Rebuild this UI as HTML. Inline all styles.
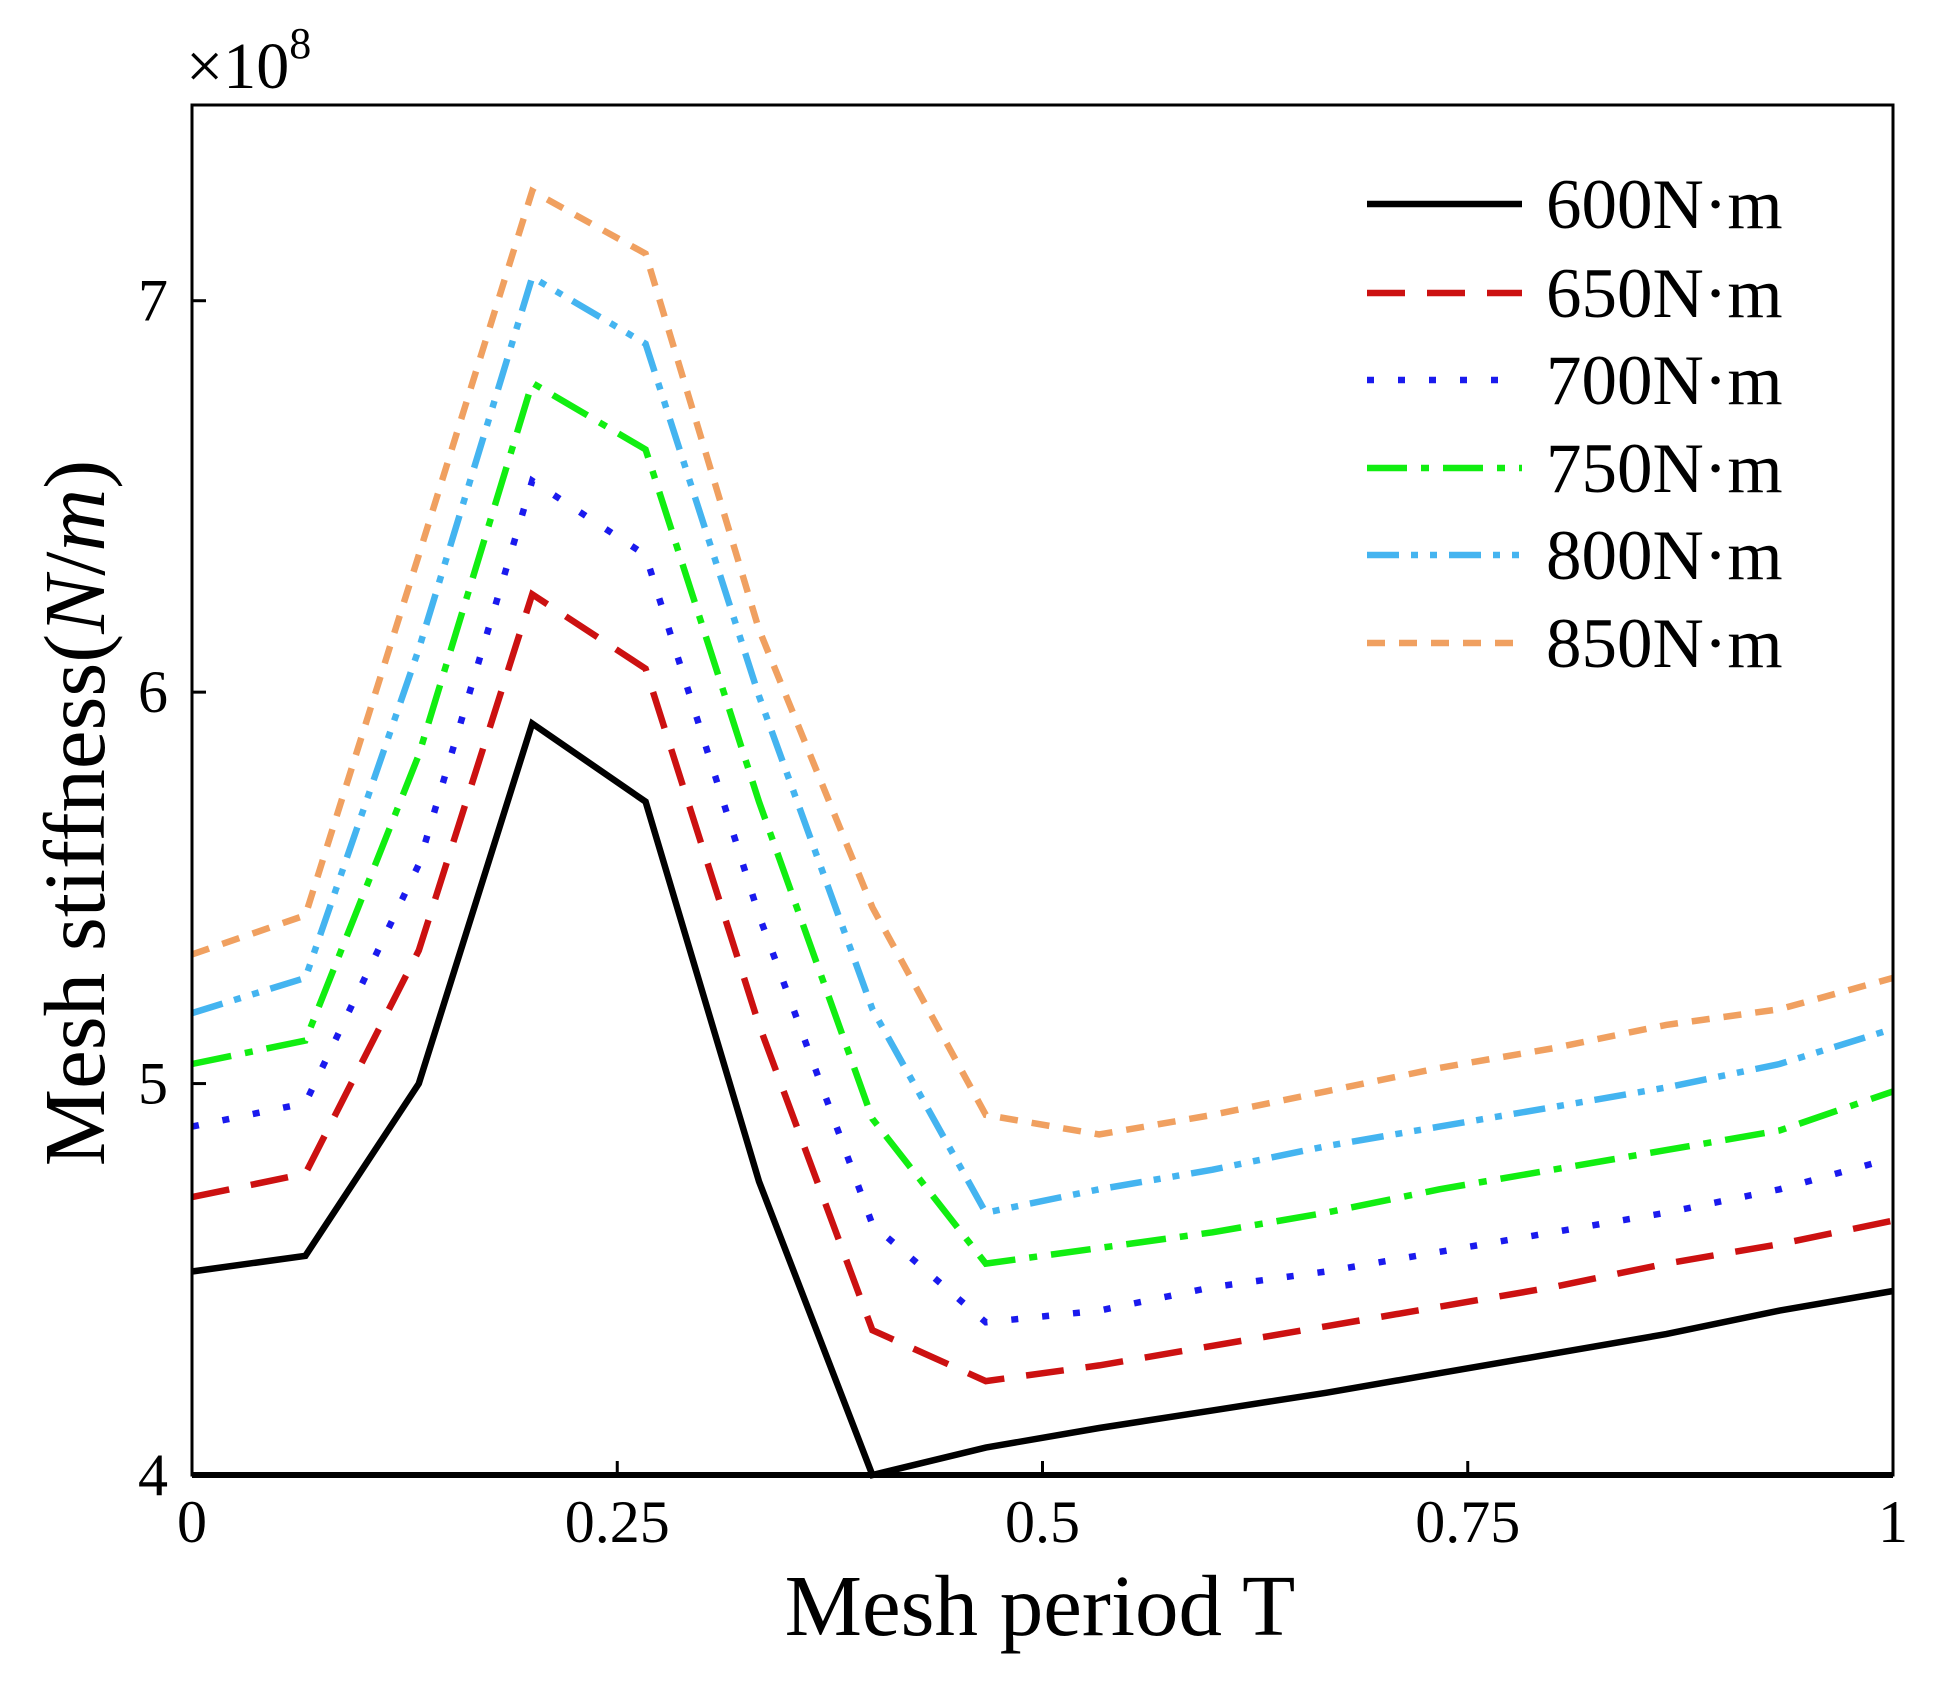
<!DOCTYPE html>
<html><head><meta charset="utf-8"><style>
html,body{margin:0;padding:0;background:#fff}
svg{display:block;font-family:"Liberation Serif",serif}
</style></head><body>
<svg id="chart" width="1939" height="1688" viewBox="0 0 1939 1688" xmlns="http://www.w3.org/2000/svg"></svg>
<script>
const xValues = [0,1/15,2/15,3/15,4/15,5/15,6/15,7/15,8/15,9/15,10/15,11/15,12/15,13/15,14/15,1];
const s600 = [4.52,4.56,5.0,5.92,5.72,4.75,4.0,4.07,4.12,4.165,4.21,4.26,4.31,4.36,4.42,4.47];
const s650 = [4.71,4.77,5.34,6.25,6.06,5.15,4.37,4.24,4.28,4.33,4.38,4.43,4.48,4.54,4.59,4.65];
const s700 = [4.89,4.95,5.56,6.54,6.35,5.43,4.64,4.39,4.42,4.48,4.52,4.57,4.62,4.67,4.73,4.81];
const s750 = [5.05,5.11,5.84,6.79,6.62,5.72,4.91,4.54,4.58,4.62,4.67,4.73,4.78,4.83,4.88,4.98];
const s800 = [5.18,5.27,6.11,7.06,6.89,5.99,5.19,4.67,4.73,4.78,4.84,4.89,4.94,4.99,5.05,5.14];
const s850 = [5.33,5.43,6.35,7.28,7.12,6.16,5.45,4.92,4.87,4.92,4.98,5.04,5.09,5.15,5.19,5.27];
const seriesLabels = ["600N·m","650N·m","700N·m","750N·m","800N·m","850N·m"];
const xTicks = [0,0.25,0.5,0.75,1];
const xTickLabels = ["0","0.25","0.5","0.75","1"];
const yTicks = [4,5,6,7];
const yTickLabels = ["4","5","6","7"];

const L=192,R=1893,T=105,B=1475,yMin=4,yMax=7.5;
const sx=v=>L+(v-0)/(1-0)*(R-L);
const sy=v=>B-(v-yMin)/(yMax-yMin)*(B-T);
const NS="http://www.w3.org/2000/svg";
const svg=document.getElementById('chart');
function mk(tag,attrs,parent){const e=document.createElementNS(NS,tag);for(const k in attrs)e.setAttribute(k,attrs[k]);(parent||svg).appendChild(e);return e;}

const styles=[
 {c:"#000000",d:""},
 {c:"#cc1111",d:"38 22"},
 {c:"#1a1aee",d:"7 24"},
 {c:"#11ee11",d:"40 14 8 14"},
 {c:"#44b4f0",d:"32 12 7 12 7 12"},
 {c:"#f0a060",d:"18 14"}
];
const all=[s600,s650,s700,s750,s800,s850];
const ids=["series-600","series-650","series-700","series-750","series-800","series-850"];

all.forEach((s,i)=>{
  const pts=s.map((v,j)=>sx(xValues[j]).toFixed(1)+","+sy(v).toFixed(1)).join(" ");
  const p=mk('polyline',{points:pts,fill:"none",stroke:styles[i].c,"stroke-width":6.5,"stroke-dasharray":styles[i].d,"stroke-linejoin":"miter"});
  
  
});

const fr=mk('rect',{x:L,y:T,width:R-L,height:B-T,fill:"none",stroke:"#000","stroke-width":3});


const bx=mk('line',{x1:L,y1:B,x2:R,y2:B,stroke:"#000","stroke-width":6});



xTicks.forEach((t,i)=>{
  const tk=mk('line',{x1:sx(t),y1:B,x2:sx(t),y2:B-14,stroke:"#000","stroke-width":3});
  
  
  const tx=mk('text',{x:sx(t),y:1542,"font-size":60,"text-anchor":"middle",fill:"#000"});
  tx.textContent=xTickLabels[i];
  
  
});
yTicks.forEach((t,i)=>{
  const tk=mk('line',{x1:L,y1:sy(t),x2:L+14,y2:sy(t),stroke:"#000","stroke-width":3});
  
  
  const tx=mk('text',{x:168,y:sy(t)+20,"font-size":60,"text-anchor":"end",fill:"#000"});
  tx.textContent=yTickLabels[i];
  
  
});

const lg=mk('g',{});


const legY=[204,293,380,468,555,643];
seriesLabels.forEach((lab,i)=>{
  const g=mk('g',{},lg);
  
  
  mk('line',{x1:1367,y1:legY[i],x2:1522,y2:legY[i],stroke:styles[i].c,"stroke-width":6.5,"stroke-dasharray":styles[i].d},g);
  const t=mk('text',{x:1546,y:legY[i]+24,"font-size":71,fill:"#000"},g);
  t.textContent=lab;
});
</script>
<svg style="position:absolute;left:0;top:0" width="1939" height="1688" xmlns="http://www.w3.org/2000/svg" font-family="Liberation Serif, serif">
  <text x="186" y="88" font-size="66">×10<tspan font-size="44" dy="-30">8</tspan></text>
  <text x="1040" y="1635" font-size="87" text-anchor="middle">Mesh period T</text>
  <text transform="translate(104,813) rotate(-90)" font-size="87" text-anchor="middle">Mesh stiffness(<tspan font-style="italic">N</tspan>/<tspan font-style="italic">m</tspan>)</text>
</svg>
</body></html>
